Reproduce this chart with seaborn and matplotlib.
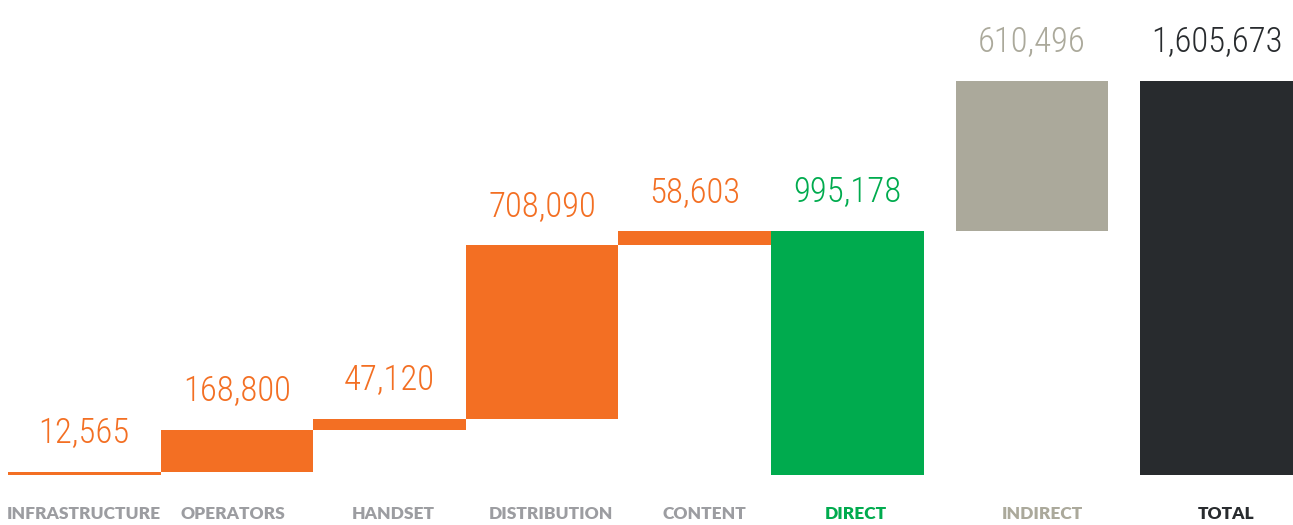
import numpy as np
import pandas as pd
import matplotlib
matplotlib.use("Agg")
import matplotlib.pyplot as plt
from matplotlib import font_manager as fm
import seaborn as sns

# ---- data ----
categories = ["INFRASTRUCTURE", "OPERATORS", "HANDSET", "DISTRIBUTION",
              "CONTENT", "DIRECT", "INDIRECT", "TOTAL"]
step_values = [12565, 168800, 47120, 708090, 58603]
direct_value = 995178
indirect_value = 610496
total_value = 1605673
value_labels = ["12,565", "168,800", "47,120", "708,090", "58,603",
                "995,178", "610,496", "1,605,673"]

ORANGE = "#F36F23"
GREEN = "#00AB4E"
GREY = "#ABA99B"
DARK = "#282B2E"
LABEL_GREY = "#9C9DA1"

bar_colors = [ORANGE] * 5 + [GREEN, GREY, DARK]
value_colors = bar_colors
cat_colors = [LABEL_GREY] * 5 + [GREEN, GREY, DARK]

# ---- waterfall geometry from data ----
values = np.array(step_values + [direct_value, indirect_value, total_value], dtype=float)
steps = np.array(step_values, dtype=float)
bottoms = np.concatenate([np.concatenate([[0], np.cumsum(steps)[:-1]]),
                          [0, direct_value, 0]])
gap = 0.21
idx = np.arange(len(categories))
pos = idx + gap * np.clip(idx - 5, 0, None)

df = pd.DataFrame({"pos": pos, "value": values, "cat": categories})

# ---- fonts ----
available = {f.name for f in fm.fontManager.ttflist}
num_family = None
for cand in ["Roboto Condensed", "Open Sans Condensed", "Liberation Sans Narrow",
             "DejaVu Sans"]:
    if cand in available:
        num_family = cand
        break
lab_family = "Lato" if "Lato" in available else "DejaVu Sans"

sns.set_theme(style="white")
plt.rcParams["font.family"] = [lab_family, "DejaVu Sans"]

W, H, DPI = 1293, 525, 100
fig = plt.figure(figsize=(W / DPI, H / DPI), dpi=DPI)
base_px = 475
ax = fig.add_axes([0, (H - base_px) / H, 1, base_px / H])

sns.barplot(data=df, x="pos", y="value", native_scale=True, width=1.0,
            bottom=bottoms, color=ORANGE, saturation=1, errorbar=None,
            linewidth=0, ax=ax)
for p, c in zip(ax.patches, bar_colors):
    p.set_facecolor(c)
    p.set_edgecolor("none")

px_per_unit = 152.6
ax.set_xlim(-0.5 - 8 / px_per_unit, -0.5 - 8 / px_per_unit + W / px_per_unit)
top_px = 81
ax.set_ylim(0, total_value * base_px / (base_px - top_px))

# value labels
num_kw = dict(family=[num_family, "DejaVu Sans"], fontsize=25)
if num_family == "Roboto Condensed":
    num_kw["fontweight"] = "light"
if num_family == "DejaVu Sans":
    num_kw["fontstretch"] = "condensed"
for x, b, v, lab, c in zip(pos, bottoms, values, value_labels, value_colors):
    ax.annotate(lab, xy=(x, b + v), xytext=(0, 21), textcoords="offset points",
                ha="center", va="baseline", color=c, **num_kw)

# category labels (slightly offset from bar centres, as in the original)
label_shift_px = np.array([0, -4, 4, 9, 10, 9, 10, 9])
ax.set_xticks(pos + label_shift_px / px_per_unit)
ax.set_xticklabels(categories, fontsize=12.5, fontweight="heavy")
for t, c in zip(ax.get_xticklabels(), cat_colors):
    t.set_color(c)
ax.tick_params(axis="x", length=0, pad=22)
ax.set_yticks([])
ax.set_xlabel("")
ax.set_ylabel("")
sns.despine(ax=ax, left=True, bottom=True)

fig.savefig("out.png", dpi=DPI, facecolor="white")
